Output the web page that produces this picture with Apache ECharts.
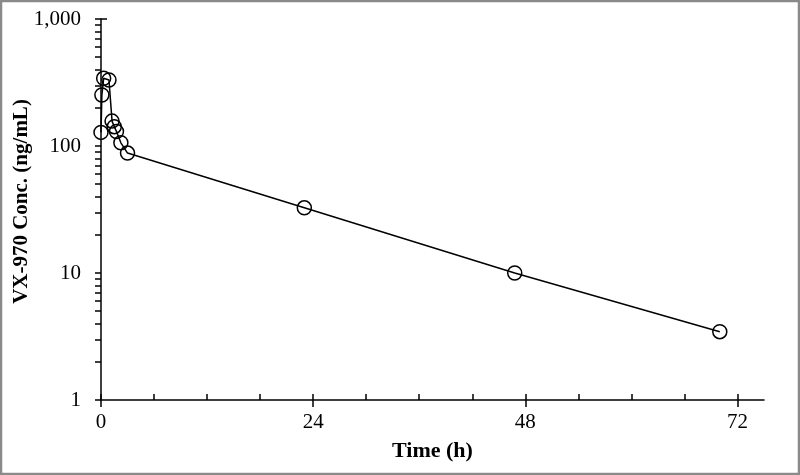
<!DOCTYPE html>
<html>
<head>
<meta charset="utf-8">
<script src="https://cdn.jsdelivr.net/npm/echarts@6/dist/echarts.min.js"></script>
<style>
  html, body { margin: 0; padding: 0; background: #fff; }
  #chart { width: 800px; height: 475px; }
</style>
</head>
<body>
<div id="chart"></div>
<script>
// time after dose (h) and VX-970 plasma concentration (ng/mL)
var timeH = [0, 0.1, 0.3, 0.9, 1.25, 1.5, 1.75, 2.25, 3, 23, 46.8, 70];
var conc = [128, 252, 341, 331, 157, 142, 130, 106, 88, 32.6, 10, 3.45];

var xLabels = [0, 24, 48, 72];
var xMinorTicks = [0, 6, 12, 18, 24, 30, 36, 42, 48, 54, 60, 66, 72];
var yLabels = [1, 10, 100, 1000];

// log-axis tick marks 1..9 per decade, kept in log10 units for the helper axis
var yTickExp = [];
[1, 10, 100].forEach(function (d) {
    for (var k = 1; k <= 9; k++) { yTickExp.push(Math.log10(d * k)); }
});
yTickExp.push(3);

var font = '"Liberation Serif", "Times New Roman", serif';
var black = '#000';

var chart = echarts.init(document.getElementById('chart'));

var points = timeH.map(function (t, i) { return [t, conc[i]]; });

chart.setOption({
    animation: false,
    graphic: [{
        type: 'rect',
        shape: { x: 1, y: 1, width: 798, height: 473 },
        style: { fill: 'none', stroke: '#8a8a8a', lineWidth: 2.5 }
    }],
    grid: { left: 101, right: 36, top: 19, bottom: 75, containLabel: false, outerBoundsMode: 'none' },
    xAxis: [{
        type: 'value',
        min: 0,
        max: 75,
        name: 'Time (h)',
        nameLocation: 'middle',
        nameGap: 40,
        nameMoveOverlap: false,
        nameTextStyle: { fontFamily: font, fontWeight: 'bold', fontSize: 22, color: black },
        axisLine: { lineStyle: { color: black, width: 1.5 } },
        axisTick: { customValues: xLabels, length: 7, lineStyle: { color: black, width: 1.5 } },
        axisLabel: { customValues: xLabels, fontFamily: font, fontSize: 21, color: black, margin: 12 },
        splitLine: { show: false }
    }, {
        // helper axis moved onto the bottom edge, its ticks point up into the plot
        type: 'value',
        min: 0,
        max: 75,
        position: 'top',
        offset: -381,
        axisLine: { show: false },
        axisTick: { customValues: xMinorTicks, length: 6, lineStyle: { color: black, width: 1.5 } },
        axisLabel: { show: false },
        splitLine: { show: false }
    }],
    yAxis: [{
        type: 'log',
        logBase: 10,
        min: 1,
        max: 1000,
        name: 'VX-970 Conc. (ng/mL)',
        nameLocation: 'middle',
        nameGap: 69,
        nameMoveOverlap: false,
        nameTextStyle: { fontFamily: font, fontWeight: 'bold', fontSize: 21, color: black, padding: [0, 0, 0, 16] },
        axisLine: { show: true, lineStyle: { color: black, width: 1.5 } },
        axisTick: { show: false },
        axisLabel: {
            customValues: yLabels,
            fontFamily: font, fontSize: 21, color: black, margin: 20,
            formatter: function (v) { return Math.round(v).toLocaleString('en-US'); }
        },
        splitLine: { show: false }
    }, {
        type: 'value',
        min: 0,
        max: 3,
        position: 'left',
        axisLine: { show: false },
        axisTick: { show: true, customValues: yTickExp, length: 6, lineStyle: { color: black, width: 1.5 } },
        axisLabel: { show: false },
        splitLine: { show: false }
    }, {
        // helper axis on the left edge: short cap to the right at the 1,000 tick
        type: 'value',
        min: 0,
        max: 3,
        position: 'right',
        offset: -663,
        axisLine: { show: false },
        axisTick: { show: true, customValues: [3], length: 6, lineStyle: { color: black, width: 1.5 } },
        axisLabel: { show: false },
        splitLine: { show: false }
    }],
    series: [{
        type: 'line',
        data: points,
        symbol: 'circle',
        symbolSize: 14,
        lineStyle: { color: black, width: 1.5 },
        itemStyle: { color: 'rgba(0,0,0,0)', borderColor: black, borderWidth: 1.5 }
    }]
});
</script>
</body>
</html>
